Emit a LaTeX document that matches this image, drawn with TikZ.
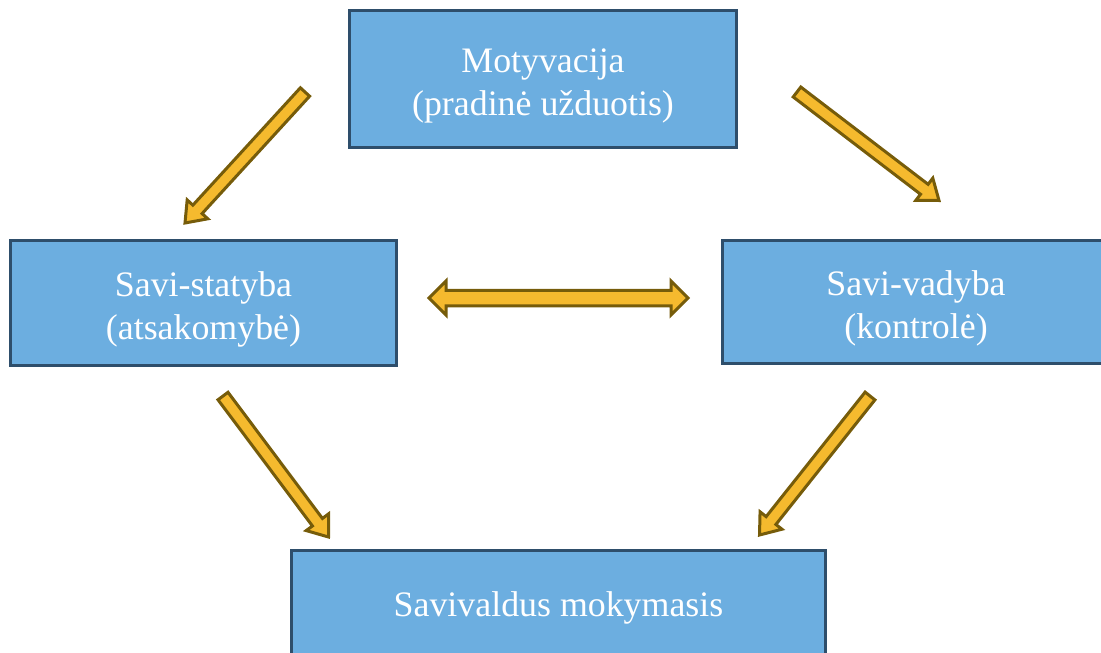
\documentclass[tikz,border=0pt]{standalone}
\usepackage{fontspec}
\setmainfont{Liberation Serif}
\usetikzlibrary{calc, positioning}

\definecolor{boxfill}{RGB}{108,174,224}
\definecolor{boxline}{RGB}{46,78,107}
\definecolor{arrfill}{RGB}{245,186,46}
\definecolor{arrline}{RGB}{118,92,10}

% two centred lines, set a little low in the box
\newcommand{\twolines}[2]{\raisebox{0pt}[\dimexpr\height+0.24cm\relax]{\begin{tabular}{@{}c@{}}#1\\#2\end{tabular}}}

% block arrow from tail (#1) to tip (#2)
\newcommand{\fatarrow}[2]{%
  \coordinate (neck) at ($(#2)!0.37cm!(#1)$);
  \filldraw[arrow] ($(#1)!0.125cm!90:(#2)$) -- ($(neck)!0.125cm!90:(#2)$) -- ($(neck)!0.28cm!90:(#2)$) -- (#2)
    -- ($(neck)!0.28cm!-90:(#2)$) -- ($(neck)!0.125cm!-90:(#2)$) -- ($(#1)!0.125cm!-90:(#2)$) -- cycle;}
% block arrow with a head at both ends
\newcommand{\fatdblarrow}[2]{%
  \coordinate (neckA) at ($(#1)!0.34cm!(#2)$);
  \coordinate (neckB) at ($(#2)!0.34cm!(#1)$);
  \filldraw[arrow] (#1) -- ($(neckA)!0.34cm!90:(#2)$) -- ($(neckA)!0.155cm!90:(#2)$) -- ($(neckB)!0.155cm!90:(#2)$)
    -- ($(neckB)!0.34cm!90:(#2)$) -- (#2) -- ($(neckB)!0.34cm!-90:(#2)$) -- ($(neckB)!0.155cm!-90:(#2)$)
    -- ($(neckA)!0.155cm!-90:(#2)$) -- ($(neckA)!0.34cm!-90:(#2)$) -- cycle;}

\begin{document}
\begin{tikzpicture}[x=0.02cm, y=-0.02cm,
        block/.style={rectangle, draw=boxline, fill=boxfill, line width=0.06cm, text=white,
            font=\fontsize{20.4}{24.5}\selectfont, align=center, inner sep=0pt},
        arrow/.style={draw=arrline, fill=arrfill, line width=0.06cm, line join=miter}]

        \useasboundingbox (0,0) rectangle (1101,652);

        % Boxes
        \node [block, minimum width=7.76cm, minimum height=2.76cm] (motiv) at (543,79) {\twolines{Motyvacija}{(pradinė užduotis)}};
        \node [block, minimum width=7.74cm, minimum height=2.52cm] (statyba) at (203.5,303) {\twolines{Savi-statyba}{(atsakomybė)}};
        \node [block, minimum width=7.76cm, minimum height=2.48cm] (vadyba) at (916,302) {\twolines{Savi-vadyba}{(kontrolė)}};
        \node [block, minimum width=10.7cm, minimum height=2.24cm] (mokym) at (558.5,606) {\raisebox{0pt}[\dimexpr\height+0.06cm\relax]{Savivaldus mokymasis}};

        % Arrow ends
        \coordinate (ml) at (305,92);
        \coordinate (sl) at (185,223);
        \coordinate (mr) at (797,92);
        \coordinate (vr) at (939,200.5);
        \coordinate (sd) at (223,396);
        \coordinate (bl) at (328.5,537);
        \coordinate (vd) at (870,396);
        \coordinate (br) at (759.5,535);
        \coordinate (sv) at (429,298);
        \coordinate (vs) at (688,298);

        % Arrows
        \fatarrow{ml}{sl}
        \fatarrow{mr}{vr}
        \fatarrow{sd}{bl}
        \fatarrow{vd}{br}
        \fatdblarrow{sv}{vs}

    \end{tikzpicture}
\end{document}
